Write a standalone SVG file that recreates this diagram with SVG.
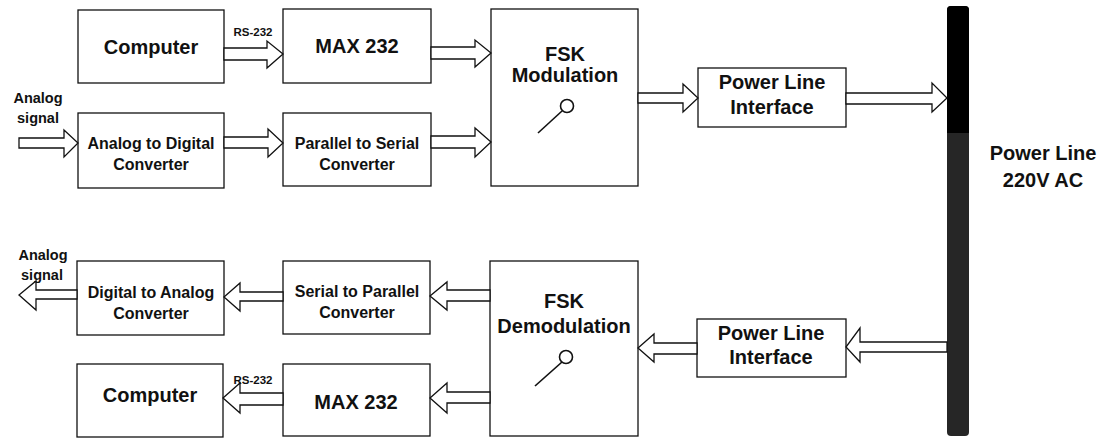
<svg xmlns="http://www.w3.org/2000/svg" width="1102" height="439" viewBox="0 0 1102 439">
<style>
.box{fill:#fff;stroke:#111;stroke-width:1.3}
.arr{fill:#fff;stroke:#111;stroke-width:1.3;stroke-linejoin:miter}
.big{font-family:"Liberation Sans",Arial,sans-serif;font-weight:bold;font-size:20px;fill:#111;text-anchor:middle}
.med{font-family:"Liberation Sans",Arial,sans-serif;font-weight:bold;font-size:16px;fill:#111;text-anchor:middle}
.lab{font-family:"Liberation Sans",Arial,sans-serif;font-weight:bold;font-size:14.5px;fill:#111;text-anchor:middle}
.rs{font-family:"Liberation Sans",Arial,sans-serif;font-weight:bold;font-size:11.5px;fill:#111;text-anchor:middle}
.knob{fill:#fff;stroke:#111;stroke-width:1.6}
</style>
<rect width="1102" height="439" fill="#fff"/>

<g id="power-line">
<rect x="947" y="6" width="22" height="430" rx="4" fill="#262626"/>
<path d="M947,133 V10 Q947,6 951,6 H965 Q969,6 969,10 V133 Z" fill="#000"/>
<text class="big" x="1043" y="160">Power Line</text>
<text class="big" x="1043" y="187">220V AC</text>
</g>

<g id="computer-tx">
<rect class="box" x="78" y="10" width="146" height="73"/>
<text class="big" x="151" y="54">Computer</text>
</g>
<g id="max232-tx">
<rect class="box" x="283" y="9" width="148" height="74"/>
<text class="big" x="357" y="53">MAX 232</text>
</g>
<g id="adc">
<rect class="box" x="78" y="113" width="146" height="75"/>
<text class="med" x="151" y="149">Analog to Digital</text>
<text class="med" x="151" y="170">Converter</text>
</g>
<g id="p2s">
<rect class="box" x="283" y="113" width="148" height="73"/>
<text class="med" x="357" y="149">Parallel to Serial</text>
<text class="med" x="357" y="170">Converter</text>
</g>
<g id="fsk-mod">
<rect class="box" x="491" y="9" width="147" height="177"/>
<text class="big" x="565" y="61">FSK</text>
<text class="big" x="565" y="82">Modulation</text>
<line x1="562" y1="111" x2="538" y2="133" stroke="#111" stroke-width="1.6"/>
<circle class="knob" cx="567" cy="106" r="6.5"/>
</g>
<g id="pli-tx">
<rect class="box" x="698" y="68" width="148" height="59"/>
<text class="big" x="772" y="89">Power Line</text>
<text class="big" x="772" y="114">Interface</text>
</g>
<g id="analog-in">
<text class="lab" x="38" y="103">Analog</text>
<text class="lab" x="38" y="123">signal</text>
</g>

<g id="dac">
<rect class="box" x="77" y="261" width="147" height="74"/>
<text class="med" x="151" y="298">Digital to Analog</text>
<text class="med" x="151" y="319">Converter</text>
</g>
<g id="s2p">
<rect class="box" x="283" y="261" width="147" height="73"/>
<text class="med" x="357" y="297">Serial to Parallel</text>
<text class="med" x="357" y="318">Converter</text>
</g>
<g id="fsk-demod">
<rect class="box" x="490" y="261" width="148" height="175"/>
<text class="big" x="564" y="308">FSK</text>
<text class="big" x="564" y="333">Demodulation</text>
<line x1="562" y1="362" x2="535" y2="386" stroke="#111" stroke-width="1.6"/>
<circle class="knob" cx="566" cy="357" r="6.5"/>
</g>
<g id="pli-rx">
<rect class="box" x="697" y="319" width="149" height="58"/>
<text class="big" x="771" y="340">Power Line</text>
<text class="big" x="771" y="364">Interface</text>
</g>
<g id="max232-rx">
<rect class="box" x="283" y="364" width="147" height="72"/>
<text class="big" x="356" y="409">MAX 232</text>
</g>
<g id="computer-rx">
<rect class="box" x="77" y="364" width="146" height="73"/>
<text class="big" x="150" y="402">Computer</text>
</g>
<g id="analog-out">
<text class="lab" x="43" y="260">Analog</text>
<text class="lab" x="42" y="280">signal</text>
</g>

<g id="connectors">
<!-- right-pointing -->
<polygon class="arr" points="224,48 267,48 267,41 283,54 267,68 267,60 224,60"/>
<polygon class="arr" points="431,47 475,47 475,40 491,53 475,67 475,59 431,59"/>
<polygon class="arr" points="19,138 64,138 64,130 78,143 64,157 64,148 19,148"/>
<polygon class="arr" points="224,137 268,137 268,129 283,143 268,157 268,148 224,148"/>
<polygon class="arr" points="431,136 475,136 475,128 491,142 475,157 475,148 431,148"/>
<polygon class="arr" points="638,93 683,93 683,84 698,98 683,112 683,103 638,103"/>
<polygon class="arr" points="846,93 932,93 932,83 947,98 932,112 932,104 846,104"/>
<!-- left-pointing -->
<polygon class="arr" points="77,290 36,290 36,281 19,295 36,310 36,299 77,299"/>
<polygon class="arr" points="283,292 240,292 240,283 224,297 240,311 240,301 283,301"/>
<polygon class="arr" points="490,290 447,290 447,282 430,296 447,310 447,301 490,301"/>
<polygon class="arr" points="490,392 447,392 447,383 430,398 447,413 447,403 490,403"/>
<polygon class="arr" points="283,393 240,393 240,383 223,398 240,413 240,405 283,405"/>
<polygon class="arr" points="697,343 654,343 654,334 638,348 654,362 654,354 697,354"/>
<polygon class="arr" points="947,342 860,342 860,328 846,347 860,362 860,352 947,352"/>
<text class="rs" x="253" y="36">RS-232</text>
<text class="rs" x="253" y="384">RS-232</text>
</g>
</svg>
